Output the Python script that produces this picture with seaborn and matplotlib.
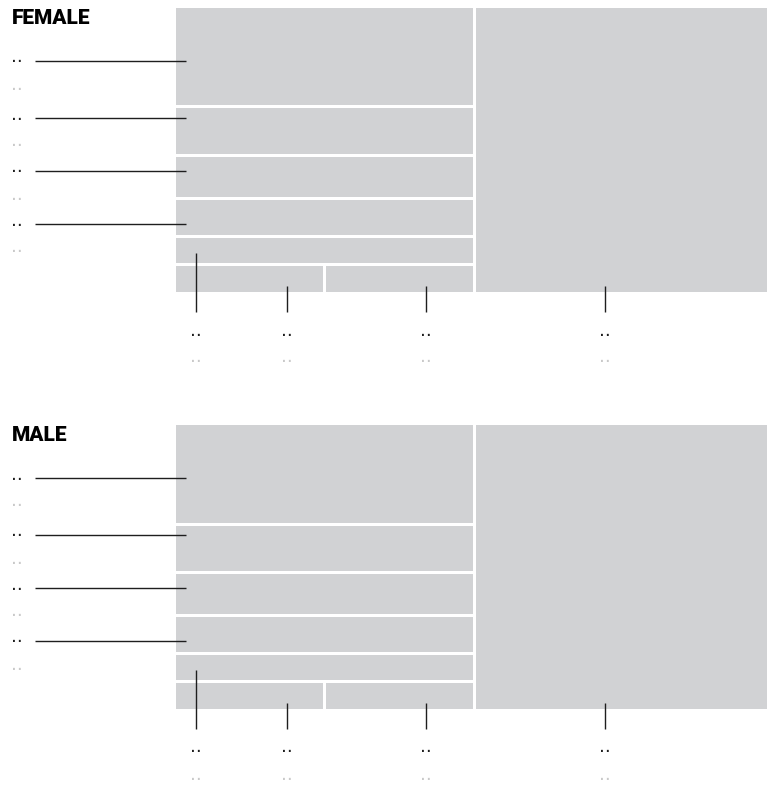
import matplotlib
matplotlib.use("Agg")
import matplotlib.pyplot as plt
from matplotlib.patches import Rectangle
import seaborn as sns

# ------------------------------------------------------------------
# Data: share of each cell (percent), one list per panel
# ------------------------------------------------------------------
CELLS = ["big", "a", "b", "c", "d", "e", "f", "g"]
FEMALE_SHARE = [49.5, 17.6, 8.6, 7.6, 6.7, 4.9, 2.55, 2.55]
MALE_SHARE = [49.5, 17.7, 8.6, 7.5, 6.6, 5.0, 2.55, 2.55]
PANEL_TITLES = ["FEMALE", "MALE"]
LABEL_TEXT = ".."

# left column rows, top to bottom ("big" fills the right column)
ROWS = [["a"], ["b"], ["c"], ["d"], ["e"], ["f", "g"]]
SIDE_LABELS = ["a", "b", "c", "d"]
BOTTOM_LABELS = ["e", "f", "g", "big"]

# ------------------------------------------------------------------
# Layout / style
# ------------------------------------------------------------------
W, H = 767, 785
PANEL_TOPS = [8, 425]
BOX_LEFT, BOX_W, BOX_H = 174.5, 594, 287
GAP = 3
CELL_COLOR = "#d1d2d4"
DARK = "#1e1e1e"
LIGHT = "#c9c9c9"
DOT_SIZE = 13.5
SIDE_Y = [53, 110, 163, 216]          # label rows below panel top
BOTTOM_DX = [20, 111, 100, 129]       # leader x inside each cell
BOTTOM_RISE = [10, 6, 6, 6]           # leader start above cell bottom


def treemap(values, x0, y0, w, h):
    v = dict(zip(CELLS, values))
    total = sum(values)
    wbig = w * v["big"] / total
    rects = {"big": (x0 + w - wbig, y0, wbig, h)}
    rest = total - v["big"]
    wl = w - wbig
    y = y0
    for row in ROWS:
        rsum = sum(v[k] for k in row)
        rh = h * rsum / rest
        x = x0
        for k in row:
            cw = wl * v[k] / rsum
            rects[k] = (x, y, cw, rh)
            x += cw
        y += rh
    return rects


sns.set_theme(style="white")
plt.rcParams["font.family"] = ["Roboto", "DejaVu Sans"]

fig = plt.figure(figsize=(W / 100, H / 100), dpi=100)
ax = fig.add_axes([0, 0, 1, 1])
ax.set_xlim(0, W)
ax.set_ylim(H, 0)
ax.axis("off")

for title, share, top in zip(PANEL_TITLES, [FEMALE_SHARE, MALE_SHARE], PANEL_TOPS):
    rects = treemap(share, BOX_LEFT, top - GAP / 2, BOX_W, BOX_H)
    for k, (x, y, w, h) in rects.items():
        ax.add_patch(Rectangle((x + GAP / 2, y + GAP / 2), w - GAP, h - GAP,
                               facecolor=CELL_COLOR, edgecolor="none"))

    ax.text(12, top + 16, title, fontsize=15, fontweight="black",
            color="black", va="baseline", ha="left")

    # side leaders
    for k, dy in zip(SIDE_LABELS, SIDE_Y):
        x, y, w, h = rects[k]
        ly = top + dy
        ax.plot([35, x + GAP / 2 + 10], [ly, ly], color=DARK, lw=1.0,
                solid_capstyle="butt")
        ax.text(11, ly + 1.5, LABEL_TEXT, fontsize=DOT_SIZE, color=DARK,
                family="DejaVu Sans", va="baseline", ha="left")
        ax.text(11, ly + 28.5, LABEL_TEXT, fontsize=DOT_SIZE, color=LIGHT,
                family="DejaVu Sans", va="baseline", ha="left")

    # bottom leaders
    panel_bottom = top + BOX_H - GAP
    for k, dx, rise in zip(BOTTOM_LABELS, BOTTOM_DX, BOTTOM_RISE):
        x, y, w, h = rects[k]
        lx = x + GAP / 2 + dx
        y_start = y + h - GAP / 2 - rise
        ax.plot([lx, lx], [y_start, panel_bottom + 20], color=DARK, lw=1.0,
                solid_capstyle="butt")
        ax.text(lx, panel_bottom + 43.5, LABEL_TEXT, fontsize=DOT_SIZE,
                color=DARK, family="DejaVu Sans", va="baseline", ha="center")
        ax.text(lx, panel_bottom + 70.5, LABEL_TEXT, fontsize=DOT_SIZE,
                color=LIGHT, family="DejaVu Sans", va="baseline", ha="center")

fig.savefig("out.png", dpi=100)
